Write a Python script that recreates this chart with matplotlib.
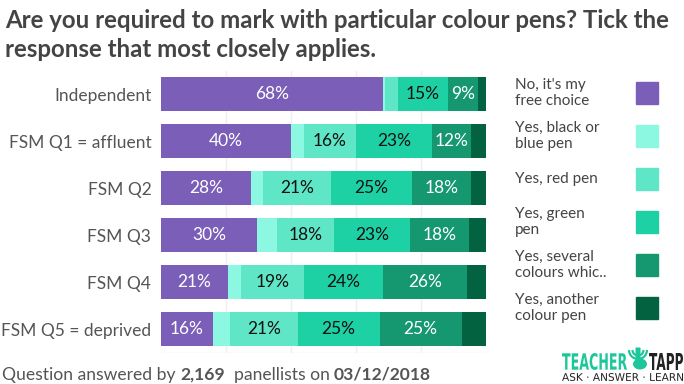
import matplotlib
matplotlib.use("Agg")
import matplotlib.pyplot as plt
from matplotlib.patches import Rectangle, PathPatch, Arc, FancyBboxPatch, Ellipse
from matplotlib.textpath import TextPath
from matplotlib.font_manager import FontProperties
from matplotlib.transforms import Affine2D
import numpy as np

plt.rcParams['font.family'] = ['Lato', 'DejaVu Sans']

categories = ["Independent", "FSM Q1 = affluent", "FSM Q2", "FSM Q3", "FSM Q4", "FSM Q5 = deprived"]
series_names = ["No, it's my\nfree choice", "Yes, black or\nblue pen", "Yes, red pen",
                "Yes, green\npen", "Yes, several\ncolours whic..", "Yes, another\ncolour pen"]
free_choice = [68.3, 40.0, 27.6, 29.6, 20.6, 16.0]
black_blue = [0.6, 4.0, 3.8, 6.0, 4.0, 5.2]
red_pen = [4.0, 16.0, 21.0, 17.6, 19.4, 20.8]
green_pen = [15.4, 23.3, 24.8, 23.4, 24.2, 25.3]
several = [9.2, 12.0, 18.2, 18.2, 25.9, 25.2]
another = [2.5, 4.7, 4.6, 5.2, 5.9, 7.5]
series = [free_choice, black_blue, red_pen, green_pen, several, another]
colors = ["#7b5eb8", "#8cf8e1", "#5fe6c6", "#1ed1a5", "#159870", "#03623f"]
text_colors = ["white", "#111111", "#111111", "#111111", "white", "white"]

fig = plt.figure(figsize=(6.84, 3.84), dpi=100)
W, H = 684, 384

# overlay axes in pixel coords for logo drawing
ov = fig.add_axes([0, 0, 1, 1], zorder=-1)
ov.set_xlim(0, W)
ov.set_ylim(H, 0)
ov.axis("off")

ax = fig.add_axes([161 / W, 1 - 352.5 / H, 325 / W, (352.5 - 70.7) / H])

y = np.arange(len(categories))
left = np.zeros(len(categories))
for vals, col, tcol in zip(series, colors, text_colors):
    vals = np.array(vals)
    ax.barh(y, vals, left=left, height=0.73, color=col, zorder=2)
    for yi, (l, v) in enumerate(zip(left, vals)):
        if v >= 8:
            ax.text(l + v / 2, yi, f"{round(v)}%", ha="center", va="center",
                    color=tcol, fontsize=12.5, zorder=3)
    left += vals

ax.set_xlim(0, 100)
ax.set_ylim(len(categories) - 0.5, -0.5)
ax.set_yticks(y)
ax.set_yticklabels(categories, fontsize=12.5, color="#555555")
ax.tick_params(axis="y", length=0, pad=7)
ax.set_xticks([20, 40, 60, 80])
ax.tick_params(axis="x", length=0, labelbottom=False)
ax.grid(axis="x", color="#efefef", lw=1, zorder=0)
for s in ax.spines.values():
    s.set_visible(False)
ax.axhline(len(categories) - 0.5, color="#eeeeee", lw=1, zorder=1)

# Title
fig.text(5 / W, 1 - 28 / H, "Are you required to mark with particular colour pens? Tick the",
         fontsize=17.3, fontweight="bold", color="#444444", va="baseline")
fig.text(5 / W, 1 - 57 / H, "response that most closely applies.",
         fontsize=17.3, fontweight="bold", color="#444444", va="baseline")

# Legend
sq_cy = [92.7, 136, 179, 221.7, 265, 307.7]
for name, col, cy in zip(series_names, colors, sq_cy):
    fig.patches.append(Rectangle((636 / W, 1 - (cy + 11) / H), 22 / W, 22 / H,
                                 transform=fig.transFigure, color=col, figure=fig))
    fig.text(515 / W, 1 - cy / H, name, fontsize=11, color="#444444",
             va="center", ha="left", linespacing=1.2)

# Footer
fig.canvas.draw()
r = fig.canvas.get_renderer()
parts = [("Question answered by ", "normal"), ("2,169", "bold"), ("  panellists on ", "normal"),
         ("03/12/2018", "bold")]
x = 2
for txt, w in parts:
    t = fig.text(x / W, 1 - 380 / H, txt, fontsize=12.6, fontweight=w, color="#555555", va="baseline")
    bb = t.get_window_extent(r)
    x += bb.width


# Logo: text fitted into pixel boxes
def fit_text(s, x0, x1, ytop, ybot, color, weight="bold"):
    fp = FontProperties(family="DejaVu Sans", weight=weight)
    tp = TextPath((0, 0), s, size=10, prop=fp)
    v = tp.vertices
    xmin, xmax = v[:, 0].min(), v[:, 0].max()
    ymin, ymax = v[:, 1].min(), v[:, 1].max()
    sx = (x1 - x0) / (xmax - xmin)
    sy = (ybot - ytop) / (ymax - ymin)
    tr = Affine2D().translate(-xmin, -ymax).scale(sx, -sy).translate(x0, ytop)
    p = tr.transform_path(tp)
    ov.add_patch(PathPatch(p, color=color, lw=0))


green = "#1ec79b"
fit_text("TEACHER", 562, 627, 353, 370, green)
fit_text("TAPP", 649, 683, 353, 370, "#222222")
fit_text("ASK \u00b7 ANSWER \u00b7 LEARN", 562, 683, 373, 381, "#222222", weight="normal")
# hand icon
ov.add_patch(Arc((638, 350), 18, 18, theta1=0, theta2=180, color=green, lw=1.6))
ov.add_patch(Arc((638, 350), 11, 11, theta1=0, theta2=180, color=green, lw=1.6))
ov.add_patch(FancyBboxPatch((636, 348), 4, 12, boxstyle="round,pad=0.5", color=green, lw=0))
ov.add_patch(Ellipse((640, 364), 14, 11, color=green, lw=0))

fig.savefig("out.png", dpi=100)
